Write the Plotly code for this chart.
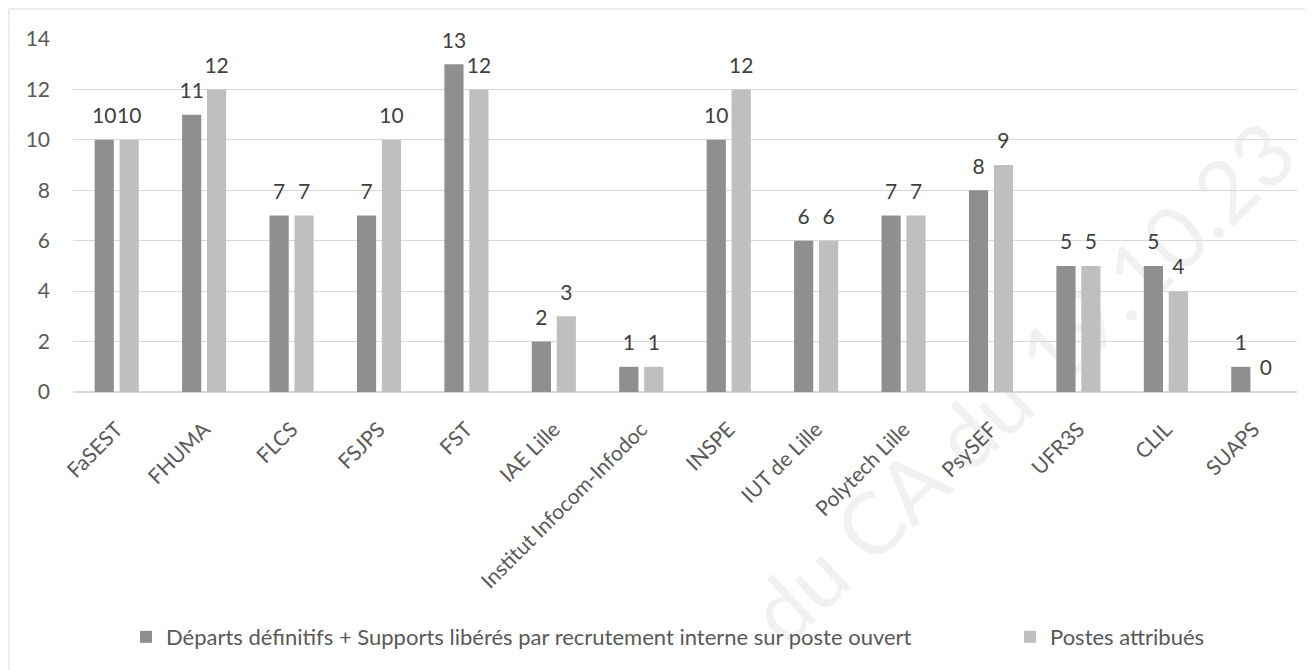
import plotly.graph_objects as go

categories = ["FaSEST", "FHUMA", "FLCS", "FSJPS", "FST", "IAE Lille",
              "Institut Infocom-Infodoc", "INSPE", "IUT de Lille", "Polytech Lille",
              "PsySEF", "UFR3S", "CLIL", "SUAPS"]
departs = [10, 11, 7, 7, 13, 2, 1, 10, 6, 7, 8, 5, 5, 1]
postes = [10, 12, 7, 10, 12, 3, 1, 12, 6, 7, 9, 5, 4, 0]
series_names = ["Départs définitifs + Supports libérés par recrutement interne sur poste ouvert",
                "Postes attribués"]
y_ticks = [0, 2, 4, 6, 8, 10, 12, 14]

# the page body adds an 8px offset; work in figure pixels
OFF = 8
W, H = 1313 - OFF, 670 - OFF
L, R, T, B = 65, 16, 31, 278
pw, ph = W - L - R, H - T - B

def px_x(p):
    return (p - OFF - L) / pw

def px_y(p):
    return (H - B - (p - OFF)) / ph

FONT = "Lato, Carlito, Calibri, sans-serif"
TXT = "#404040"
TICK = "#595959"
FS = 21

def lab(vals):
    return [f"<span style='font-size:{FS}px'>{v}</span><br> " for v in vals]

fig = go.Figure()
for vals, name, col, lg in [(departs, series_names[0], "#8F8F8F", "legend"),
                            (postes, series_names[1], "#BFBFBF", "legend2")]:
    fig.add_trace(go.Bar(x=categories, y=vals, name=name, legend=lg,
                         marker=dict(color=col, line=dict(width=0)),
                         text=lab(vals), textposition="outside", constraintext="none",
                         textfont=dict(family=FONT, size=9, color=TXT),
                         cliponaxis=False))

leg_common = dict(orientation="h", xanchor="left", yanchor="middle",
                  font=dict(family=FONT, size=22, color=TICK),
                  itemwidth=30, bgcolor="rgba(0,0,0,0)")

fig.update_layout(
    width=W, height=H,
    margin=dict(l=L, r=R, t=T, b=B, autoexpand=False),
    paper_bgcolor="white", plot_bgcolor="white",
    barmode="group", bargap=0.43, bargroupgap=0.23,
    font=dict(family=FONT, size=FS, color=TICK),
    showlegend=True,
    legend=dict(x=px_x(126), y=px_y(637), **leg_common),
    legend2=dict(x=px_x(1010), y=px_y(637), **leg_common),
    xaxis=dict(tickangle=-45, showgrid=False, showline=False, ticks="",
               tickfont=dict(family=FONT, size=FS, color=TICK), ticklabelstandoff=20),
    yaxis=dict(range=[0, 14], tickvals=y_ticks, showgrid=True, gridcolor="#D9D9D9", gridwidth=1,
               zeroline=True, zerolinecolor="#D9D9D9", zerolinewidth=1.5,
               showline=False, ticks="", tickfont=dict(family=FONT, size=FS, color=TICK),
               ticklabelstandoff=22),
)

# chart frame (extends past the right and bottom edges of the image)
fig.add_shape(type="rect", xref="paper", yref="paper",
              x0=px_x(9), x1=px_x(1340), y0=px_y(700), y1=px_y(9),
              line=dict(color="#D9D9D9", width=1), fillcolor="rgba(0,0,0,0)", layer="below")

# watermark, drawn beneath the gridlines and bars
fig.add_shape(type="line", xref="paper", yref="paper", layer="below",
              x0=px_x(745), y0=px_y(640), x1=px_x(1295), y1=px_y(120),
              line=dict(color="rgba(0,0,0,0)", width=0),
              label=dict(text="du CA du 19.10.23", textposition="middle", yanchor="middle",
                         font=dict(family=FONT, size=86, color="#F1F1F1")))

fig.write_html("out.html")
